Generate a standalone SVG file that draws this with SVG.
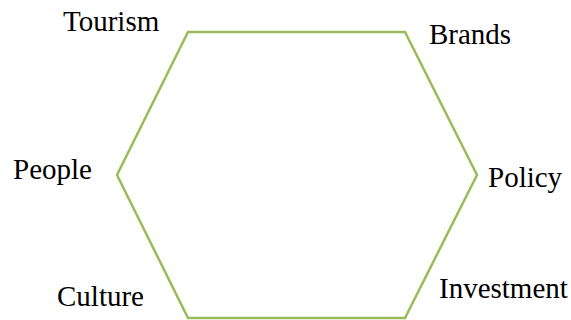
<svg xmlns="http://www.w3.org/2000/svg" width="571" height="320" viewBox="0 0 571 320">
<style>
.lbl{font-family:"Liberation Serif","Times New Roman",serif;font-size:29px;fill:#000}
.hex{fill:none;stroke:#9BBB59;stroke-width:2.5;stroke-linejoin:miter}
</style>
<rect width="571" height="320" fill="#fff"/>
<g id="connectors">
<polygon class="hex" points="188,32 405,32 477,175 405,318 188,318 117,175"/>
</g>
<g id="tourism"><text class="lbl" x="63" y="31">Tourism</text></g>
<g id="brands"><text class="lbl" x="429" y="44">Brands</text></g>
<g id="people"><text class="lbl" x="13" y="179">People</text></g>
<g id="policy"><text class="lbl" x="488" y="187">Policy</text></g>
<g id="culture"><text class="lbl" x="57" y="306">Culture</text></g>
<g id="investment"><text class="lbl" x="439" y="298">Investment</text></g>
</svg>
